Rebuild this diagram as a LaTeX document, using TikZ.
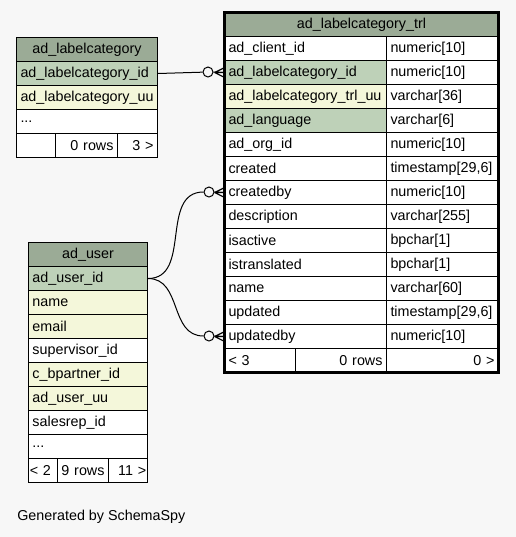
\documentclass[tikz,border=0pt]{standalone}
\usepackage{fontspec}
\setmainfont{Liberation Sans}
\usetikzlibrary{positioning}

\definecolor{hdrgreen}{RGB}{155,171,150}
\definecolor{keygreen}{RGB}{190,209,184}
\definecolor{rowyellow}{RGB}{244,247,218}
\definecolor{pagegray}{RGB}{247,247,247}

\newcommand\tblfont{\fontsize{10.75}{12}\selectfont}

\tikzset{
  cell/.style={draw=black, line width=0.75pt, anchor=north west, fill=white,
    minimum height=18pt, minimum width=#1pt, text width=#1pt-6pt,
    inner xsep=3pt, inner ysep=0pt, align=left, font=\tblfont},
  tightcell/.style={cell=#1, inner xsep=1pt, text width=#1pt-2pt},
  hdr/.style={cell=#1, fill=hdrgreen, align=center},
  rcell/.style={cell=#1, align=right},
  fkring/.style={draw=black, circle, fill=pagegray, minimum size=7.5pt, inner sep=0pt, line width=0.75pt},
}

% crow's foot at the west side of a row
\newcommand\crowfoot[1]{%
  \draw[line width=0.9pt] ([xshift=-7pt]#1.west) -- ([yshift=3.5pt]#1.west)
    ([xshift=-7pt]#1.west) -- (#1.west)
    ([xshift=-7pt]#1.west) -- ([yshift=-3.5pt]#1.west);}

\begin{document}
\begin{tikzpicture}[x=0.75pt, y=-0.75pt]
\fill[pagegray] (0,0) rectangle (516,537);
\useasboundingbox (0,0) rectangle (516,537);

% ad_labelcategory
\node[hdr=105.75] (lc-h) at (16,37) {ad\_labelcategory};
\node[cell=105.75, fill=keygreen] (lc-1) at (16,61) {ad\_labelcategory\_id};
\node[cell=105.75, fill=rowyellow] (lc-2) at (16,85) {ad\_labelcategory\_uu};
\node[cell=105.75] (lc-3) at (16,109) {...};
\node[cell=29.25] (lc-f1) at (16,133) {};
\node[rcell=46.5] (lc-f2) at (55,133) {0 rows};
\node[rcell=30] (lc-f3) at (117,133) {3 >};

% ad_labelcategory_trl
\node[hdr=205.5] (trl-h) at (224,12) {ad\_labelcategory\_trl};
\foreach \fld/\typ/\clr [count=\i] in {
    ad\_client\_id/numeric[10]/white,
    ad\_labelcategory\_id/numeric[10]/keygreen,
    ad\_labelcategory\_trl\_uu/varchar[36]/rowyellow,
    ad\_language/varchar[6]/keygreen,
    ad\_org\_id/numeric[10]/white,
    created/{timestamp[29,6]}/white,
    createdby/numeric[10]/white,
    description/varchar[255]/white,
    isactive/bpchar[1]/white,
    istranslated/bpchar[1]/white,
    name/varchar[60]/white,
    updated/{timestamp[29,6]}/white,
    updatedby/numeric[10]/white}{
  \node[cell=121.5, fill=\clr] (trl-\i) at (224,{36+24*(\i-1)}) {\fld};
  \node[cell=84] (trlt-\i) at (386,{36+24*(\i-1)}) {\typ};
}
\node[cell=53.25] (trl-f1) at (224,348) {< 3};
\node[rcell=68.25] (trl-f2) at (295,348) {0 rows};
\node[rcell=84] (trl-f3) at (386,348) {0 >};
\draw[line width=2.25pt] (224,12) rectangle (498,372);

% ad_user
\node[hdr=89.25] (u-h) at (28,242) {ad\_user};
\foreach \fld/\clr [count=\i] in {
    ad\_user\_id/keygreen,
    name/rowyellow,
    email/rowyellow,
    supervisor\_id/white,
    c\_bpartner\_id/rowyellow,
    ad\_user\_uu/rowyellow,
    salesrep\_id/white}{
  \node[cell=89.25, fill=\clr] (u-\i) at (28,{266+24*(\i-1)}) {\fld};
}
\node[cell=89.25] (u-8) at (28,434) {...};
\node[tightcell=21.75] (u-f1) at (28,458) {< 2};
\node[tightcell=38.25, align=center] (u-f2) at (57,458) {9 rows};
\node[tightcell=29.25, align=right] (u-f3) at (108,458) {11 >};

% relationships
\node[fkring] (r1) at (208,72) {};
\node[fkring] (r2) at (209,192) {};
\node[fkring] (r3) at (209,336) {};

\draw[line width=0.75pt] (lc-1.east) -- (r1);
\draw[line width=0.75pt] (u-1.east) to[out=0,in=180,looseness=1.1] (r2);
\draw[line width=0.75pt] (u-1.east) to[out=0,in=180,looseness=1.1] (r3);
\draw[line width=0.75pt] (r1.east) -- (trl-2.west);
\draw[line width=0.75pt] (r2.east) -- (trl-7.west);
\draw[line width=0.75pt] (r3.east) -- (trl-13.west);
\crowfoot{trl-2}
\crowfoot{trl-7}
\crowfoot{trl-13}

\node[anchor=west, inner sep=0pt, font=\tblfont] (gen) at (17,517) {Generated by SchemaSpy};
\end{tikzpicture}
\end{document}
